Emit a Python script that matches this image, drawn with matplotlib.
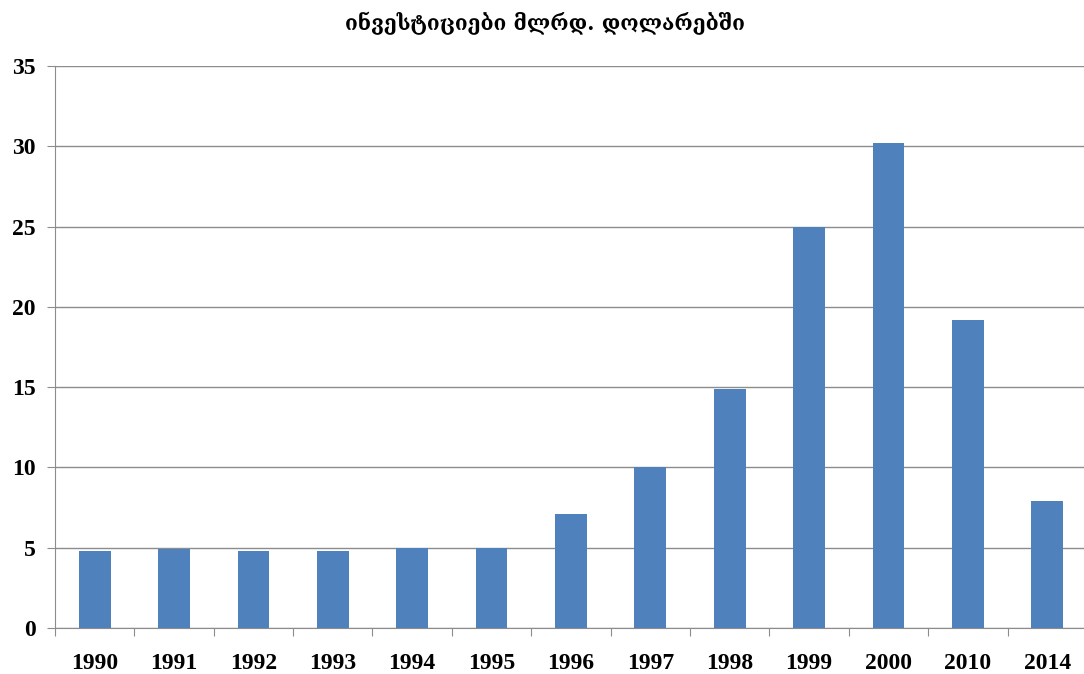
import matplotlib
matplotlib.use("Agg")
import matplotlib.pyplot as plt
import numpy as np

years = ["1990", "1991", "1992", "1993", "1994", "1995", "1996", "1997", "1998", "1999", "2000", "2010", "2014"]
values = [4.8, 4.9, 4.8, 4.8, 5.0, 5.0, 7.1, 10.0, 14.9, 25.0, 30.2, 19.2, 7.9]
yticks = [0, 5, 10, 15, 20, 25, 30, 35]
title = "ინვესტიციები მლრდ. დოლარებში"

fig = plt.figure(figsize=(10.84, 6.74), dpi=100)
ax = fig.add_axes([0.0507, 0.0682, 0.952, 0.834])

x = np.arange(len(years))
ax.bar(x, values, width=0.40, color="#4F81BD", zorder=3)
ax.set_xlim(-0.5, len(years) - 0.5)
ax.set_ylim(0, 35)
ax.set_yticks(yticks)
ax.set_yticklabels([str(t) for t in yticks])
ax.yaxis.grid(True, color="#8C8C8C", linewidth=1.0, zorder=0)

# Category ticks between bars
ax.set_xticks(np.arange(-0.5, len(years) + 0.5, 1.0))
ax.set_xticklabels([])
ax.set_xticks(x, minor=True)
ax.set_xticklabels(years, minor=True)
ax.tick_params(axis="x", which="minor", length=0, pad=18)
ax.tick_params(axis="x", which="major", length=6, color="#8C8C8C", direction="out")
ax.tick_params(axis="y", length=6, color="#8C8C8C", pad=8)

for lab in ax.get_xticklabels(minor=True) + ax.get_yticklabels():
    lab.set_fontfamily(["Liberation Serif", "DejaVu Serif"])
    lab.set_fontweight("bold")
    lab.set_fontsize(17)

for s in ["top", "right"]:
    ax.spines[s].set_visible(False)
ax.spines["left"].set_color("#8C8C8C")
ax.spines["bottom"].set_color("#8C8C8C")

fig.text(0.503, 0.965, title, ha="center", va="center", fontsize=15,
         fontweight="bold", family=["DejaVu Serif", "DejaVu Sans"])

fig.savefig("out.png", dpi=100, facecolor="white")
